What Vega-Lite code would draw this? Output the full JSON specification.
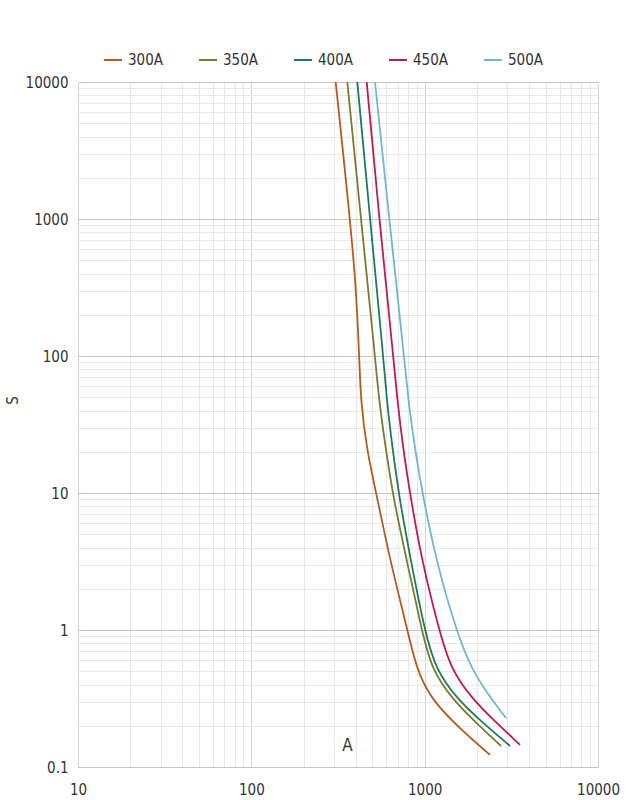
{
  "$schema": "https://vega.github.io/schema/vega-lite/v6.json",
  "width": 520,
  "height": 685,
  "autosize": {"type": "none"},
  "padding": {"left": 78, "top": 82, "right": 33, "bottom": 33},
  "background": "white",
  "config": {
    "font": "DejaVu Sans Condensed, Roboto, sans-serif",
    "view": {"stroke": null},
    "axis": {"labelFont": "DejaVu Sans Condensed, Roboto, sans-serif", "titleFont": "DejaVu Sans Condensed, Roboto, sans-serif", "labelColor": "#333333", "titleColor": "#333333", "titleFontWeight": "normal"}
  },
  "data": {
    "values": [
      {"curve": "300A", "A": 306.7, "S": 10000},
      {"curve": "300A", "A": 371, "S": 1000},
      {"curve": "300A", "A": 401.7, "S": 319},
      {"curve": "300A", "A": 419.7, "S": 96.7},
      {"curve": "300A", "A": 427.6, "S": 47.7},
      {"curve": "300A", "A": 463, "S": 20.6},
      {"curve": "300A", "A": 533, "S": 9.19},
      {"curve": "300A", "A": 631, "S": 3.24},
      {"curve": "300A", "A": 796, "S": 1.0},
      {"curve": "300A", "A": 900, "S": 0.51},
      {"curve": "300A", "A": 1098, "S": 0.308},
      {"curve": "300A", "A": 1600, "S": 0.19},
      {"curve": "300A", "A": 2382, "S": 0.1225},
      {"curve": "350A", "A": 357.9, "S": 10000},
      {"curve": "350A", "A": 429, "S": 1000},
      {"curve": "350A", "A": 517, "S": 100},
      {"curve": "350A", "A": 545, "S": 47.7},
      {"curve": "350A", "A": 598, "S": 20.6},
      {"curve": "350A", "A": 659, "S": 9.19},
      {"curve": "350A", "A": 788, "S": 3.24},
      {"curve": "350A", "A": 961, "S": 1.0},
      {"curve": "350A", "A": 1098, "S": 0.51},
      {"curve": "350A", "A": 1463, "S": 0.308},
      {"curve": "350A", "A": 1909, "S": 0.22},
      {"curve": "350A", "A": 2756, "S": 0.1423},
      {"curve": "400A", "A": 408.7, "S": 10000},
      {"curve": "400A", "A": 484, "S": 1000},
      {"curve": "400A", "A": 577, "S": 100},
      {"curve": "400A", "A": 604, "S": 47.7},
      {"curve": "400A", "A": 654, "S": 20.6},
      {"curve": "400A", "A": 714, "S": 9.19},
      {"curve": "400A", "A": 831, "S": 3.24},
      {"curve": "400A", "A": 998, "S": 1.0},
      {"curve": "400A", "A": 1158, "S": 0.51},
      {"curve": "400A", "A": 1563, "S": 0.308},
      {"curve": "400A", "A": 2080, "S": 0.22},
      {"curve": "400A", "A": 3107, "S": 0.1423},
      {"curve": "450A", "A": 463, "S": 10000},
      {"curve": "450A", "A": 547, "S": 1000},
      {"curve": "450A", "A": 659, "S": 100},
      {"curve": "450A", "A": 695, "S": 47.7},
      {"curve": "450A", "A": 753, "S": 20.6},
      {"curve": "450A", "A": 831, "S": 9.19},
      {"curve": "450A", "A": 961, "S": 3.24},
      {"curve": "450A", "A": 1210, "S": 1.0},
      {"curve": "450A", "A": 1420, "S": 0.51},
      {"curve": "450A", "A": 1909, "S": 0.308},
      {"curve": "450A", "A": 2500, "S": 0.22},
      {"curve": "450A", "A": 3548, "S": 0.1449},
      {"curve": "500A", "A": 517, "S": 10000},
      {"curve": "500A", "A": 625, "S": 1000},
      {"curve": "500A", "A": 760, "S": 100},
      {"curve": "500A", "A": 804, "S": 47.7},
      {"curve": "500A", "A": 880, "S": 20.6},
      {"curve": "500A", "A": 982, "S": 9.19},
      {"curve": "500A", "A": 1163, "S": 3.24},
      {"curve": "500A", "A": 1516, "S": 1.0},
      {"curve": "500A", "A": 1868, "S": 0.51},
      {"curve": "500A", "A": 2447, "S": 0.308},
      {"curve": "500A", "A": 2946, "S": 0.228}
    ]
  },
  "mark": {"type": "line", "strokeWidth": 1.8, "interpolate": "basis", "clip": true},
  "encoding": {
    "x": {
      "field": "A", "type": "quantitative",
      "scale": {"type": "log", "domain": [10, 10000], "nice": false},
      "axis": {
        "title": "A", "titleFontSize": 17, "titleX": 269, "titleY": -22, "titleAlign": "center", "titleBaseline": "middle", "titleAnchor": null,
        "values": [10,20,30,40,50,60,70,80,90,100,200,300,400,500,600,700,800,900,1000,2000,3000,4000,5000,6000,7000,8000,9000,10000],
        "labelExpr": "datum.value == 10 || datum.value == 100 || datum.value == 1000 || datum.value == 10000 ? datum.label : ''",
        "format": "d", "labelFontSize": 15, "labelPadding": 15, "ticks": false, "domain": false,
        "labelFlush": false, "labelOverlap": false,
        "gridColor": {"condition": {"test": "datum.value == 10 || datum.value == 100 || datum.value == 1000 || datum.value == 10000", "value": "#d4d4d4"}, "value": "#e8e8e8"},
        "gridWidth": 1
      }
    },
    "y": {
      "field": "S", "type": "quantitative",
      "scale": {"type": "log", "domain": [0.1, 10000], "nice": false},
      "axis": {
        "title": "S", "titleFontSize": 15, "titleX": -66, "titleY": 318, "titleAlign": "center", "titleBaseline": "middle", "titleAnchor": null,
        "values": [0.1,0.2,0.3,0.4,0.5,0.6,0.7,0.8,0.9,1,2,3,4,5,6,7,8,9,10,20,30,40,50,60,70,80,90,100,200,300,400,500,600,700,800,900,1000,2000,3000,4000,5000,6000,7000,8000,9000,10000],
        "labelExpr": "datum.value == 0.1 || datum.value == 1 || datum.value == 10 || datum.value == 100 || datum.value == 1000 || datum.value == 10000 ? datum.label : ''",
        "format": "~g", "labelFontSize": 15, "labelPadding": 10, "ticks": false, "domain": false,
        "labelFlush": false, "labelOverlap": false,
        "gridColor": {"condition": {"test": "datum.value == 0.1 || datum.value == 1 || datum.value == 10 || datum.value == 100 || datum.value == 1000 || datum.value == 10000", "value": "#c4c4c4"}, "value": "#e8e8e8"},
        "gridWidth": 1
      }
    },
    "color": {
      "field": "curve", "type": "nominal",
      "scale": {"domain": ["300A", "350A", "400A", "450A", "500A"], "range": ["#b35c1e", "#7b7b2e", "#1e7a5e", "#c0185a", "#6fb6d8"]},
      "legend": {
        "title": null, "orient": "none", "legendX": 25, "legendY": -32, "direction": "horizontal", "columns": 5,
        "symbolType": "stroke", "symbolSize": 324, "symbolStrokeWidth": 2, "labelFontSize": 15, "labelColor": "#333333",
        "labelFont": "DejaVu Sans Condensed, Roboto, sans-serif", "labelOffset": 5, "columnPadding": 32
      }
    }
  }
}
